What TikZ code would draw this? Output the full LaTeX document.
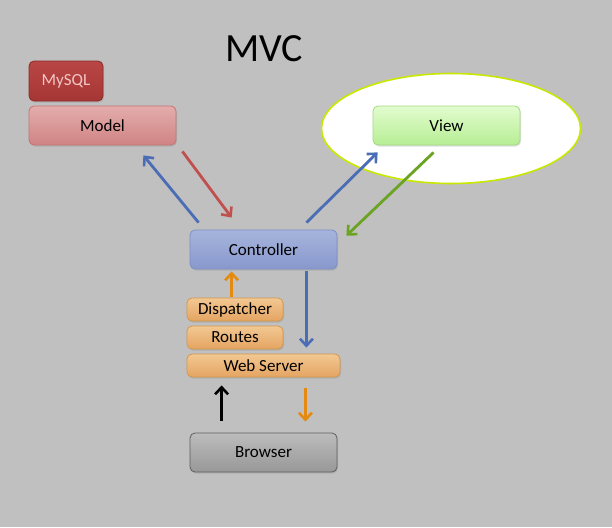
\documentclass[tikz,border=0pt]{standalone}
\usepackage{fontspec}
\setmainfont{Carlito}
\usetikzlibrary{arrows.meta,shadows}

\definecolor{bgGray}{HTML}{C0C0C0}
\definecolor{arrBlue}{HTML}{4A6DB5}
\definecolor{arrRed}{HTML}{C0504D}
\definecolor{arrGreen}{HTML}{6BA423}
\definecolor{arrOrange}{HTML}{E48A10}
\definecolor{ringLime}{HTML}{C8E800}
% box fills: top, bottom, border
\definecolor{sqlTop}{HTML}{B84644}\definecolor{sqlBot}{HTML}{A63634}\definecolor{sqlLine}{HTML}{8E2C2A}
\definecolor{sqlText}{HTML}{F2C6C4}
\definecolor{modTop}{HTML}{E4ACAC}\definecolor{modBot}{HTML}{D08484}\definecolor{modLine}{HTML}{C47474}
\definecolor{viewTop}{HTML}{E2FCCE}\definecolor{viewBot}{HTML}{B6EE94}\definecolor{viewLine}{HTML}{A2DA84}
\definecolor{ctrlTop}{HTML}{A6B4DC}\definecolor{ctrlBot}{HTML}{8898CC}\definecolor{ctrlLine}{HTML}{7E8EC6}
\definecolor{orTop}{HTML}{F2C892}\definecolor{orBot}{HTML}{E4A462}\definecolor{orLine}{HTML}{D3984E}
\definecolor{brTop}{HTML}{BCBCBC}\definecolor{brBot}{HTML}{989898}\definecolor{brLine}{HTML}{5E5E5E}

\tikzset{
  box/.style={rounded corners=5pt, inner sep=0pt, line width=0.8pt,
    font=\fontsize{17}{19}\selectfont,
    drop shadow={shadow xshift=1pt, shadow yshift=-1.5pt, opacity=0.25}},
  bigbox/.style={box, minimum width=147pt, minimum height=39pt},
  layer/.style={box, draw=orLine, top color=orTop, bottom color=orBot, minimum height=23pt},
  flow/.style={line width=2.8pt, -{Straight Barb[length=7pt,width=13pt,line width=2.6pt]}},
}

\begin{document}
\begin{tikzpicture}[x=1pt,y=-1pt]
  % Background
  \fill[bgGray] (0,0) rectangle (612,527);
  \useasboundingbox (0,0) rectangle (612,527);
  % Title
  \node (title) at (264,49) {\fontsize{40}{44}\selectfont MVC};
  % Highlight round the view
  \draw[ringLime, line width=1.6pt, fill=white] (451,128.5) ellipse (129.5pt and 55pt);
  % Boxes
  \node[box, draw=sqlLine, top color=sqlTop, bottom color=sqlBot, text=sqlText,
        minimum width=74pt, minimum height=40pt] (mysql) at (66,81) {MySQL};
  \node[bigbox, draw=modLine, top color=modTop, bottom color=modBot] (model) at (102.5,125.5) {Model};
  \node[bigbox, draw=viewLine, top color=viewTop, bottom color=viewBot] (view) at (446.5,125.5) {View};
  \node[bigbox, draw=ctrlLine, top color=ctrlTop, bottom color=ctrlBot] (ctrl) at (263.5,249.5) {Controller};
  \node[layer, minimum width=96pt] (disp) at (235,309.5) {Dispatcher};
  \node[layer, minimum width=96pt] (routes) at (235,337.5) {Routes};
  \node[layer, minimum width=153pt] (web) at (263.5,365.5) {Web Server};
  \node[bigbox, draw=brLine, top color=brTop, bottom color=brBot] (browser) at (263.5,452.5) {Browser};
  % Arrows
  \draw[flow, arrBlue] ([shift={(9,-7)}]ctrl.north west) -- ([shift={(-33,10)}]model.south east);
  \draw[flow, arrRed] ([shift={(6,6)}]model.south east) -- ([shift={(42,-12)}]ctrl.north west);
  \draw[flow, arrBlue] ([shift={(-31,-7)}]ctrl.north east) -- ([shift={(5,7)}]view.south west);
  \draw[flow, arrGreen] ([shift={(61,7)}]view.south west) -- ([shift={(9,6)}]ctrl.north east);
  \draw[flow, arrOrange] ([shift={(45,-1)}]disp.north west) -- ([shift={(42,2)}]ctrl.south west);
  \draw[flow, arrBlue] ([shift={(-31,2)}]ctrl.south east) -- ([shift={(-34,-6)}]web.north east);
  \draw[flow, black] ([shift={(32,-12)}]browser.north west) -- ([shift={(35,8)}]web.south west);
  \draw[flow, arrOrange] ([shift={(-35,11)}]web.south east) -- ([shift={(-32,-11)}]browser.north east);
\end{tikzpicture}
\end{document}
